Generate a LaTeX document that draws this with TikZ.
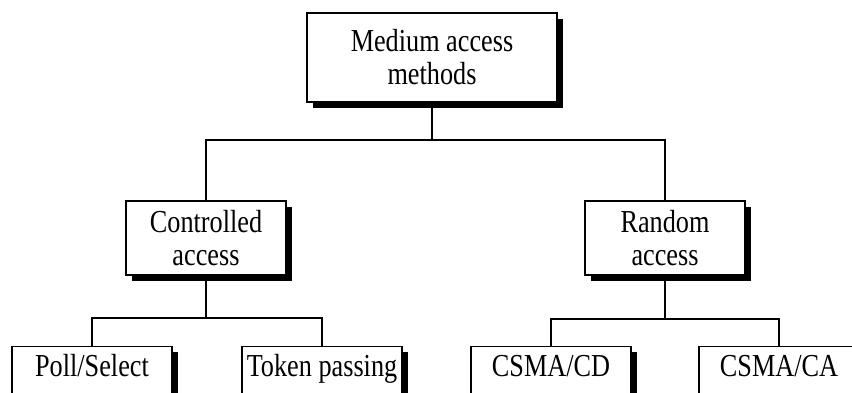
\documentclass[tikz,border=0pt]{standalone}
\usepackage{fontspec}
\setmainfont{Liberation Serif}[FakeStretch=0.82]
\usetikzlibrary{shadows}

\begin{document}
\begin{tikzpicture}[x=1pt,y=-1pt,
  box/.style={draw=black, line width=1.3pt, fill=white, rectangle,
    inner sep=0pt, align=center, font=\fontsize{32}{33}\selectfont,
    general shadow={fill=black, shadow xshift=5.5pt, shadow yshift=-5.5pt}},
  leafbox/.style={box, anchor=north, minimum width=160pt, minimum height=50pt,
    text height=19pt, text depth=9pt},
  link/.style={line width=2pt}]
  \useasboundingbox (0,0) rectangle (852,392);
  \clip (0,0) rectangle (852,392);

  % root and second level
  \node[box, minimum width=250pt, minimum height=89pt] (root) at (432,57.5) {Medium access\\methods};
  \node[box, minimum width=160pt, minimum height=74pt] (ctrl) at (206,238) {Controlled\\access};
  \node[box, minimum width=160pt, minimum height=74pt] (rand) at (665,238) {Random\\access};

  % leaves
  \node[leafbox] (poll)  at (92,346)  {Poll/Select};
  \node[leafbox] (token) at (322,346) {Token passing};
  \node[leafbox] (cd)    at (551,346) {CSMA/CD};
  \node[leafbox] (ca)    at (779,346) {CSMA/CA};

  % tree connectors
  \draw[link] (root.south) -- ++(0,37) coordinate (j0);
  \draw[link] (j0) -| (ctrl.north);
  \draw[link] (j0) -| (rand.north);

  \draw[link] (ctrl.south) -- ++(0,42) coordinate (j1);
  \draw[link] (j1) -| (poll.north);
  \draw[link] (j1) -| (token.north);

  \draw[link] (rand.south) -- ++(0,43) coordinate (j2);
  \draw[link] (j2) -| (cd.north);
  \draw[link] (j2) -| (ca.north);
\end{tikzpicture}
\end{document}
